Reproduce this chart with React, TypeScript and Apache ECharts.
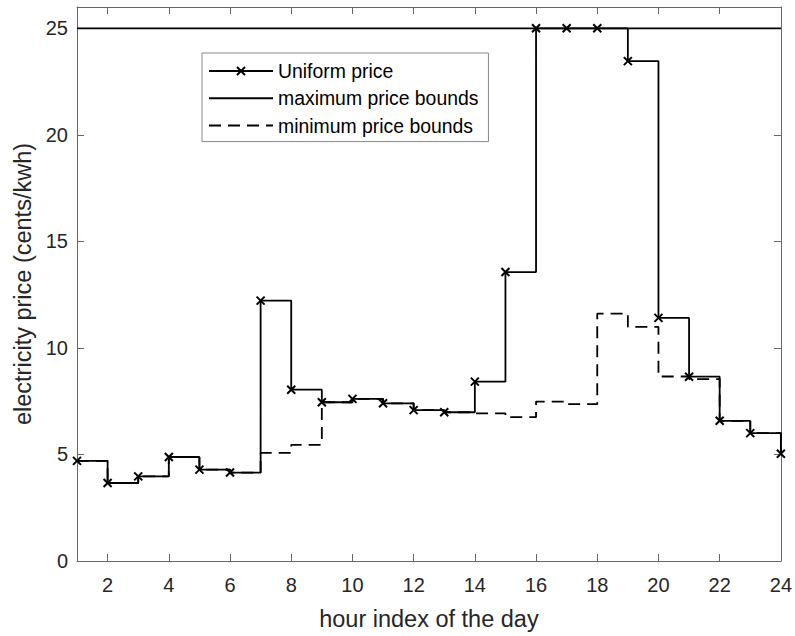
import React, { useEffect, useRef } from "react";
import * as echarts from "echarts";

const hours = [1, 2, 3, 4, 5, 6, 7, 8, 9, 10, 11, 12, 13, 14, 15, 16, 17, 18, 19, 20, 21, 22, 23, 24];
const uniformPrice = [4.7, 3.66, 3.97, 4.88, 4.29, 4.15, 12.22, 8.04, 7.45, 7.61, 7.4, 7.08, 6.98, 8.42, 13.56, 25, 25, 25, 23.46, 11.41, 8.65, 6.58, 6.0, 5.03];
const maxPrice = [25, 25, 25, 25, 25, 25, 25, 25, 25, 25, 25, 25, 25, 25, 25, 25, 25, 25, 25, 25, 25, 25, 25, 25];
const minPrice = [4.7, 3.66, 3.97, 4.88, 4.29, 4.15, 5.07, 5.45, 7.45, 7.61, 7.4, 7.08, 6.98, 6.93, 6.75, 7.48, 7.36, 11.61, 10.99, 8.66, 8.54, 6.58, 6.0, 5.03];
const xTicks = [2, 4, 6, 8, 10, 12, 14, 16, 18, 20, 22, 24];
const yTicks = [0, 5, 10, 15, 20, 25];
const seriesNames = ["Uniform price", "maximum price bounds", "minimum price bounds"];

const FONT = "Liberation Sans, Arial, Helvetica, sans-serif";
const AXIS_COLOR = "#666666";
const TEXT_COLOR = "#262626";
const CROSS = "path://M0,0L10,10M0,10L10,0";

function pairs(ys: number[]) {
  return hours.map((h, i) => [h, ys[i]]);
}

export default function App() {
  const ref = useRef<HTMLDivElement>(null);
  useEffect(() => {
    if (!ref.current) return;
    const chart = echarts.init(ref.current, undefined, { renderer: "svg" });
    const xBase = {
      type: "value",
      min: 1,
      max: 24,
      splitLine: { show: false },
      axisLine: { show: true, onZero: false, lineStyle: { color: AXIS_COLOR, width: 1 } },
      axisTick: { show: true, inside: true, length: 7, customValues: xTicks, lineStyle: { color: AXIS_COLOR } },
    };
    const yBase = {
      type: "value",
      min: 0,
      max: 26,
      splitLine: { show: false },
      axisLine: { show: true, onZero: false, lineStyle: { color: AXIS_COLOR, width: 1 } },
      axisTick: { show: true, inside: true, length: 7, customValues: yTicks, lineStyle: { color: AXIS_COLOR } },
    };
    const hiddenSymbol = { color: "transparent", borderColor: "transparent", borderWidth: 0, opacity: 0 };
    chart.setOption({
      animation: false,
      backgroundColor: "#ffffff",
      textStyle: { fontFamily: FONT },
      grid: { left: 77, right: 14, top: 7, bottom: 73, containLabel: false },
      legend: {
        orient: "vertical",
        left: 202,
        top: 53,
        data: [
          { name: seriesNames[0] },
          { name: seriesNames[1], itemStyle: hiddenSymbol },
          { name: seriesNames[2], itemStyle: hiddenSymbol },
        ],
        itemWidth: 64,
        itemHeight: 10,
        itemGap: 7.3,
        padding: [8, 10, 6, 6],
        borderColor: "#888888",
        borderWidth: 1,
        backgroundColor: "#ffffff",
        textStyle: { fontFamily: FONT, fontSize: 19.4, color: "#000", lineHeight: 20, padding: [0, 0, 0, 0] },
      },
      xAxis: [
        {
          ...xBase,
          position: "bottom",
          name: "hour index of the day",
          nameLocation: "middle",
          nameGap: 46,
          nameTextStyle: { fontFamily: FONT, fontSize: 23.5, color: TEXT_COLOR },
          axisLabel: { show: true, customValues: xTicks, margin: 14, fontFamily: FONT, fontSize: 20, color: TEXT_COLOR },
        },
        {
          ...xBase,
          position: "top",
          axisLabel: { show: false },
        },
      ],
      yAxis: [
        {
          ...yBase,
          position: "left",
          name: "electricity price (cents/kwh)",
          nameLocation: "middle",
          nameGap: 40,
          nameTextStyle: { fontFamily: FONT, fontSize: 23.5, color: TEXT_COLOR },
          axisLabel: { show: true, customValues: yTicks, margin: 9, fontFamily: FONT, fontSize: 20, color: TEXT_COLOR },
        },
        {
          ...yBase,
          position: "right",
          axisLabel: { show: false },
        },
      ],
      series: [
        {
          name: seriesNames[0],
          type: "line",
          step: "end",
          data: pairs(uniformPrice),
          symbol: CROSS,
          symbolSize: 8,
          showSymbol: true,
          lineStyle: { color: "#000", width: 1.8 },
          itemStyle: { color: "#000", borderColor: "#000", borderWidth: 2 },
          z: 3,
        },
        {
          name: seriesNames[1],
          type: "line",
          data: pairs(maxPrice),
          symbol: "none",
          lineStyle: { color: "#000", width: 1.8 },
          itemStyle: { color: "#000" },
          z: 2,
        },
        {
          name: seriesNames[2],
          type: "line",
          step: "end",
          data: pairs(minPrice),
          symbol: "none",
          lineStyle: { color: "#000", width: 1.8, type: [12, 7] },
          itemStyle: { color: "#000" },
          z: 4,
        },
      ],
    });
    return () => chart.dispose();
  }, []);
  return (
    <div
      ref={ref}
      style={{ position: "fixed", left: 0, top: 0, width: 795, height: 636, background: "#fff" }}
    />
  );
}
